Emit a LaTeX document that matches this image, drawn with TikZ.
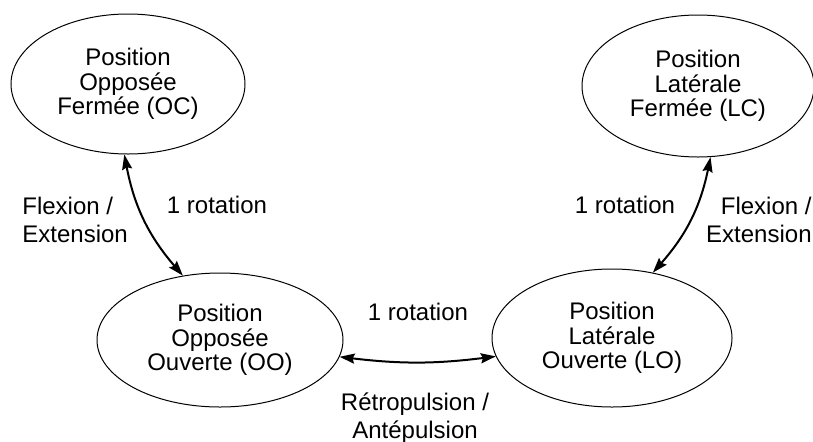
\documentclass[tikz,border=0pt]{standalone}
\usepackage{fontspec}
\setmainfont{Liberation Sans}
\usetikzlibrary{shapes.geometric,arrows.meta}
\begin{document}
\begin{tikzpicture}[x=0.5pt,y=0.5pt,font=\fontsize{12}{12.2}\selectfont,
	position/.style={draw, ellipse, line width=0.5pt, inner sep=0pt, align=center},
	lbl/.style={inner sep=0pt, font=\fontsize{12}{14}\selectfont},
	link/.style={{Stealth[length=7.5pt,width=5pt,inset=1pt]}-{Stealth[length=7.5pt,width=5pt,inset=1pt]}, line width=1pt}]
	\useasboundingbox (0,0) rectangle (813,441);
	\node[position, minimum width=117pt, minimum height=70pt] (oc) at (128,357) {Position\\Opposée\\Fermée (OC)};
	\node[position, minimum width=116pt, minimum height=71pt] (lc) at (698,355) {Position\\Latérale\\Fermée (LC)};
	\node[position, minimum width=123pt, minimum height=67pt] (oo) at (220,101) {Position\\Opposée\\Ouverte (OO)};
	\node[position, minimum width=120pt, minimum height=69pt] (lo) at (612,103) {Position\\Latérale\\Ouverte (LO)};
	
	\draw[link] (oc.-93) to[bend right=15] (oo.120);
	\draw[link] (lc.-80) to[bend left=15] (lo.58);
	\draw[link] (oo.-8) to[bend right=7] (lo.189);
	
	\node[lbl, anchor=west, align=left] (flexo) at (22,221) {Flexion /\\Extension};
	\node[lbl] (roto) at (217,236) {1 rotation};
	\node[lbl] (rotl) at (625,236) {1 rotation};
	\node[lbl, anchor=east, align=right] (flexl) at (812,221) {Flexion /\\Extension};
	\node[lbl] (rotm) at (418,129) {1 rotation};
	\node[lbl, align=center] (retro) at (415,23) {Rétropulsion /\\Antépulsion};
\end{tikzpicture}
\end{document}
